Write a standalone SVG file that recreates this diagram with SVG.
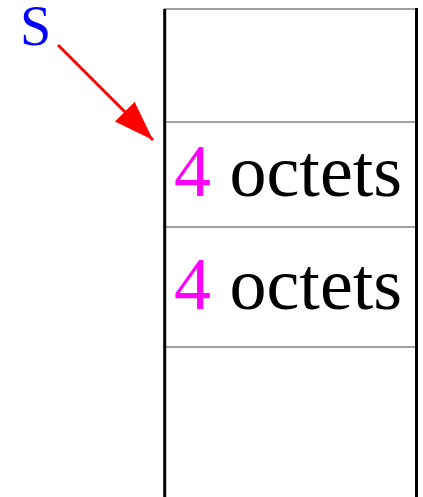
<svg xmlns="http://www.w3.org/2000/svg" width="423" height="497" viewBox="0 0 423 497">
  <style>
    .wall { stroke: #000; stroke-width: 3; fill: none; }
    .sep { stroke: #444; stroke-width: 1.2; fill: none; }
    .lbl { font-family: "Liberation Serif", "Times New Roman", serif; font-size: 74px; fill: #000; }
    .num { fill: #ff00ff; }
  </style>
  <defs>
    <marker id="head" markerUnits="userSpaceOnUse" markerWidth="44" markerHeight="30" refX="40" refY="14" orient="auto">
      <path d="M0,0 L40,14 L0,28 Z" fill="#ff0000"/>
    </marker>
  </defs>

  <!-- memory column -->
  <g id="column">
    <line class="sep" x1="164" y1="9" x2="417" y2="9"/>
    <line class="sep" x1="164" y1="122" x2="417" y2="122"/>
    <line class="sep" x1="164" y1="227" x2="417" y2="227"/>
    <line class="sep" x1="164" y1="347" x2="418" y2="347"/>
    <line class="wall" x1="164.7" y1="9" x2="164.7" y2="497"/>
    <line class="wall" x1="416.5" y1="8" x2="416.5" y2="497"/>
  </g>

  <g id="cell1">
    <text class="lbl" x="174" y="196"><tspan class="num">4</tspan> octets</text>
  </g>
  <g id="cell2">
    <text class="lbl" x="174" y="309"><tspan class="num">4</tspan> octets</text>
  </g>

  <g id="pointer">
    <text x="20" y="45" font-family="Liberation Serif, Times New Roman, serif" font-size="56" fill="#0000ff">S</text>
  </g>

  <g id="connectors">
    <line x1="58" y1="45" x2="153" y2="140" stroke="#ff0000" stroke-width="3" marker-end="url(#head)"/>
  </g>
</svg>
